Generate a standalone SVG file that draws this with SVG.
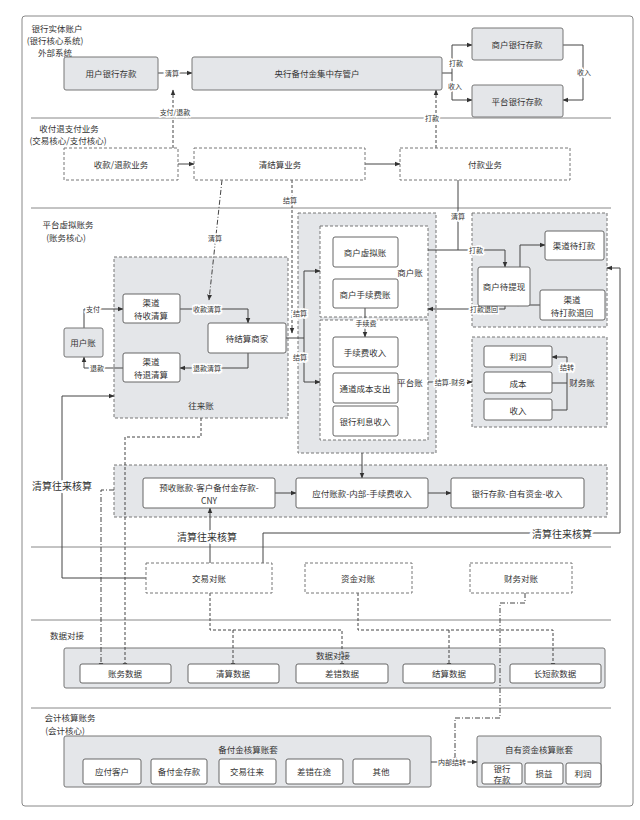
<svg xmlns="http://www.w3.org/2000/svg" width="640" height="820" viewBox="0 0 640 820">
<defs>
<marker id="a" viewBox="0 0 10 10" refX="9" refY="5" markerWidth="6" markerHeight="6" orient="auto"><path d="M0,1 L10,5 L0,9 z" fill="#333"/></marker>
<style>
text{font-family:"Noto Sans CJK SC","Liberation Sans",sans-serif;font-size:8.5px;fill:#333;text-anchor:middle;dominant-baseline:central}
.g{fill:#e4e6e9;stroke:#777;stroke-width:1}
.gd{fill:#e4e6e9;stroke:#777;stroke-width:1;stroke-dasharray:3,2}
.w{fill:#fff;stroke:#666;stroke-width:1}
.wd{fill:#fff;stroke:#777;stroke-width:1;stroke-dasharray:3,2}
.c{fill:none;stroke:#444;stroke-width:1}
.cm{fill:none;stroke:#444;stroke-width:1;marker-end:url(#a)}
.dm{fill:none;stroke:#444;stroke-width:1;stroke-dasharray:3,2;marker-end:url(#a)}
.dd{fill:none;stroke:#444;stroke-width:1;stroke-dasharray:5,2,1,2;marker-end:url(#a)}
.sec{stroke:#888;stroke-width:1}
.s{font-size:7px;stroke:#fff;stroke-width:3;paint-order:stroke}
.b{font-size:10px;stroke:#fff;stroke-width:4;paint-order:stroke}
</style>
</defs>
<rect width="640" height="820" fill="#fff"/>
<rect x="22" y="16" width="611" height="790" rx="3" fill="none" stroke="#888"/>
<g id="sections">
<line class="sec" x1="31" y1="118" x2="611" y2="118"/>
<line class="sec" x1="31" y1="208" x2="611" y2="208"/>
<line class="sec" x1="31" y1="547" x2="611" y2="547"/>
<line class="sec" x1="31" y1="620" x2="611" y2="620"/>
<line class="sec" x1="31" y1="708" x2="611" y2="708"/>
<text x="57" y="28">银行实体账户</text><text x="55" y="40">(银行核心系统)</text><text x="55" y="52">外部系统</text>
<text x="69" y="128">收付退支付业务</text><text x="68" y="140">(交易核心/支付核心)</text>
<text x="68" y="224">平台虚拟账务</text><text x="66" y="237">(账务核心)</text>
<text x="67" y="635">数据对接</text>
<text x="70" y="717">会计核算账务</text><text x="65" y="730">(会计核心)</text>
</g>
<g id="groups">
<rect class="gd" x="114" y="257" width="174" height="161"/>
<text x="201" y="405">往来账</text>
<rect class="gd" x="298" y="213" width="138" height="240"/>
<rect class="wd" x="320" y="226" width="108" height="91"/>
<text x="410" y="272">商户账</text>
<rect class="wd" x="320" y="320" width="108" height="120"/>
<rect class="gd" x="472" y="213" width="135" height="114"/>
<rect class="gd" x="472" y="337" width="135" height="90"/>
<text x="582" y="382">财务账</text>
<rect class="gd" x="114" y="465" width="493" height="52"/>
<rect class="g" x="64" y="648" width="541" height="40" rx="2"/>
<text x="333" y="655">数据对接</text>
<rect class="g" x="64" y="736" width="367" height="51" rx="2"/>
<text x="248" y="749">备付金核算账套</text>
<rect class="g" x="477" y="736" width="124" height="51" rx="2"/>
<text x="539" y="749">自有资金核算账套</text>
</g>
<g id="connectors">
<path class="cm" d="M158,73 H192"/><text class="s" x="172" y="73">清算</text>
<path class="c" d="M442,73 H452 V45"/><path class="cm" d="M452,45 H472"/>
<path class="c" d="M452,73 V100"/><path class="cm" d="M452,100 H472"/>
<text class="s" x="456" y="63">打款</text><text class="s" x="455" y="86">收入</text>
<path class="cm" d="M563,45 H583 V100 H563"/>
<text class="s" x="584" y="72">收入</text>
<path class="dm" d="M173,148 V90"/><text class="s" x="175" y="112">支付/退款</text>
<path class="dm" d="M436,148 V90"/><text class="s" x="432" y="118">打款</text>
<path class="cm" d="M178,164 H194"/>
<path class="cm" d="M365,164 H400"/>
<path class="dd" d="M222,180 L209,300"/><text class="s" x="215" y="238">清算</text>
<path class="dm" d="M292,180 V333"/><text class="s" x="290" y="200">结算</text>
<path class="c" d="M286,338 H304"/>
<path class="c" d="M304,271 V382"/>
<path class="cm" d="M304,271 H320"/><path class="cm" d="M304,382 H320"/>
<text class="s" x="300" y="313">结算</text><text class="s" x="300" y="357">结算</text>
<path class="c" d="M458,180 V250"/><text class="s" x="458" y="216">清算</text>
<path class="cm" d="M428,250 H505 V267"/><text class="s" x="476" y="250">打款</text>
<path class="cm" d="M505,306 V309 H428"/><text class="s" x="484" y="309">打款退回</text>
<path class="cm" d="M520,267 V245 H545"/>
<path class="cm" d="M540,305 H518 V306"/>
<path class="cm" d="M365,308 V337"/><text class="s" x="366" y="323">手续费</text>
<path class="cm" d="M428,382 H472"/><text class="s" x="450" y="382">结算-财务</text>
<path class="c" d="M552,383 H567 M552,410 H567"/><path class="cm" d="M567,410 V357 H552"/><text class="s" x="567" y="367">结转</text>
<path class="cm" d="M84,328 V309 H123"/><text class="s" x="93" y="309">支付</text>
<path class="cm" d="M180,309 H248 V323"/><text class="s" x="207" y="309">收款清算</text>
<path class="cm" d="M248,353 V368 H180"/><text class="s" x="207" y="368">退款清算</text>
<path class="cm" d="M123,368 H84 V357"/><text class="s" x="97" y="368">退款</text>
<path class="cm" d="M146,578 H62 V396 H114"/>
<text class="b" x="62" y="485">清算往来核算</text>
<path class="cm" d="M263,563 V533 H620 V268 H607"/>
<text class="b" x="562" y="533">清算往来核算</text>
<path class="cm" d="M362,453 V478"/>
<path class="cm" d="M275,493 H296"/><path class="cm" d="M428,493 H451"/>
<path class="cm" d="M210,563 V508"/>
<text class="b" x="207" y="536">清算往来核算</text>
<path class="dd" d="M114,490 H101 V668"/>
<path class="dm" d="M201,418 V437 H125 V668"/>
<path class="dm" d="M210,593 V630 H342 V668"/>
<path class="dm" d="M233,630 V668"/>
<path class="dm" d="M358,593 V630 H553 V668"/>
<path class="dm" d="M449,630 V668"/>
<path class="dd" d="M525,593 V603 H500 V718 H455 V762"/>
<path class="cm" d="M431,762 H477"/><text class="s" x="452" y="762">内部结转</text>
</g>
<g id="n1"><rect class="g" x="64" y="57" width="94" height="33" rx="2"/><text x="111" y="73">用户银行存款</text></g>
<g id="n2"><rect class="g" x="192" y="57" width="250" height="33" rx="2"/><text x="317" y="73">央行备付金集中存管户</text></g>
<g id="n3"><rect class="g" x="472" y="28" width="91" height="32" rx="2"/><text x="517" y="44">商户银行存款</text></g>
<g id="n4"><rect class="g" x="472" y="85" width="91" height="32" rx="2"/><text x="517" y="101">平台银行存款</text></g>
<g id="n5"><rect class="wd" x="64" y="148" width="114" height="32"/><text x="121" y="164">收款/退款业务</text></g>
<g id="n6"><rect class="wd" x="194" y="148" width="171" height="32"/><text x="280" y="164">清结算业务</text></g>
<g id="n7"><rect class="wd" x="400" y="148" width="170" height="32"/><text x="485" y="164">付款业务</text></g>
<g id="n8"><rect class="w" x="123" y="294" width="57" height="29" rx="2"/><text x="151" y="302">渠道</text><text x="151" y="315">待收清算</text></g>
<g id="n9"><rect class="w" x="123" y="353" width="57" height="29" rx="2"/><text x="151" y="361">渠道</text><text x="151" y="374">待退清算</text></g>
<g id="n10"><rect class="w" x="208" y="323" width="78" height="30" rx="2"/><text x="247" y="338">待结算商家</text></g>
<g id="n11"><rect class="g" x="64" y="328" width="39" height="29" rx="2"/><text x="83" y="342">用户账</text></g>
<g id="n12"><rect class="w" x="333" y="237" width="65" height="30" rx="2"/><text x="365" y="252">商户虚拟账</text></g>
<g id="n13"><rect class="w" x="333" y="279" width="65" height="29" rx="2"/><text x="365" y="294">商户手续费账</text></g>
<g id="n14"><rect class="w" x="333" y="337" width="65" height="30" rx="2"/><text x="365" y="352">手续费收入</text></g>
<g id="n15"><rect class="w" x="333" y="373" width="65" height="30" rx="2"/><text x="365" y="388">通道成本支出</text></g>
<g id="n16"><rect class="w" x="333" y="406" width="65" height="30" rx="2"/><text x="365" y="421">银行利息收入</text></g>
<text x="410" y="382">平台账</text>
<g id="n17"><rect class="w" x="545" y="231" width="59" height="29" rx="2"/><text x="574" y="245">渠道待打款</text></g>
<g id="n18"><rect class="w" x="478" y="267" width="52" height="39" rx="2"/><text x="504" y="286">商户待提现</text></g>
<g id="n19"><rect class="w" x="540" y="290" width="65" height="30" rx="2"/><text x="572" y="299">渠道</text><text x="572" y="312">待打款退回</text></g>
<g id="n20"><rect class="w" x="484" y="346" width="68" height="21" rx="2"/><text x="518" y="356">利润</text></g>
<g id="n21"><rect class="w" x="484" y="372" width="68" height="21" rx="2"/><text x="518" y="383">成本</text></g>
<g id="n22"><rect class="w" x="484" y="399" width="68" height="21" rx="2"/><text x="518" y="410">收入</text></g>
<g id="n23"><rect class="w" x="143" y="478" width="132" height="30" rx="2"/><text x="209" y="487">预收账款-客户备付金存款-</text><text x="209" y="500">CNY</text></g>
<g id="n24"><rect class="w" x="296" y="478" width="132" height="30" rx="2"/><text x="362" y="493">应付账款-内部-手续费收入</text></g>
<g id="n25"><rect class="w" x="451" y="478" width="133" height="30" rx="2"/><text x="517" y="493">银行存款-自有资金-收入</text></g>
<g id="n26"><rect class="wd" x="146" y="563" width="126" height="30"/><text x="209" y="578">交易对账</text></g>
<g id="n27"><rect class="wd" x="305" y="563" width="107" height="30"/><text x="358" y="578">资金对账</text></g>
<g id="n28"><rect class="wd" x="470" y="563" width="102" height="30"/><text x="521" y="578">财务对账</text></g>
<g id="n29"><rect class="w" x="80" y="664" width="91" height="19" rx="2"/><text x="125" y="673">账务数据</text></g>
<g id="n30"><rect class="w" x="188" y="664" width="91" height="19" rx="2"/><text x="233" y="673">清算数据</text></g>
<g id="n31"><rect class="w" x="296" y="664" width="92" height="19" rx="2"/><text x="342" y="673">差错数据</text></g>
<g id="n32"><rect class="w" x="403" y="664" width="92" height="19" rx="2"/><text x="449" y="673">结算数据</text></g>
<g id="n33"><rect class="w" x="510" y="664" width="91" height="19" rx="2"/><text x="555" y="673">长短款数据</text></g>
<g id="n34"><rect class="w" x="83" y="759" width="58" height="25" rx="2"/><text x="112" y="771">应付客户</text></g>
<g id="n35"><rect class="w" x="151" y="759" width="56" height="25" rx="2"/><text x="179" y="771">备付金存款</text></g>
<g id="n36"><rect class="w" x="219" y="759" width="57" height="25" rx="2"/><text x="247" y="771">交易往来</text></g>
<g id="n37"><rect class="w" x="286" y="759" width="57" height="25" rx="2"/><text x="314" y="771">差错在途</text></g>
<g id="n38"><rect class="w" x="353" y="759" width="57" height="25" rx="2"/><text x="381" y="771">其他</text></g>
<g id="n39"><rect class="w" x="482" y="763" width="40" height="21" rx="2"/><text x="502" y="768">银行</text><text x="502" y="779">存款</text></g>
<g id="n40"><rect class="w" x="525" y="763" width="38" height="21" rx="2"/><text x="544" y="773">损益</text></g>
<g id="n41"><rect class="w" x="566" y="763" width="35" height="21" rx="2"/><text x="583" y="773">利润</text></g>
</svg>
